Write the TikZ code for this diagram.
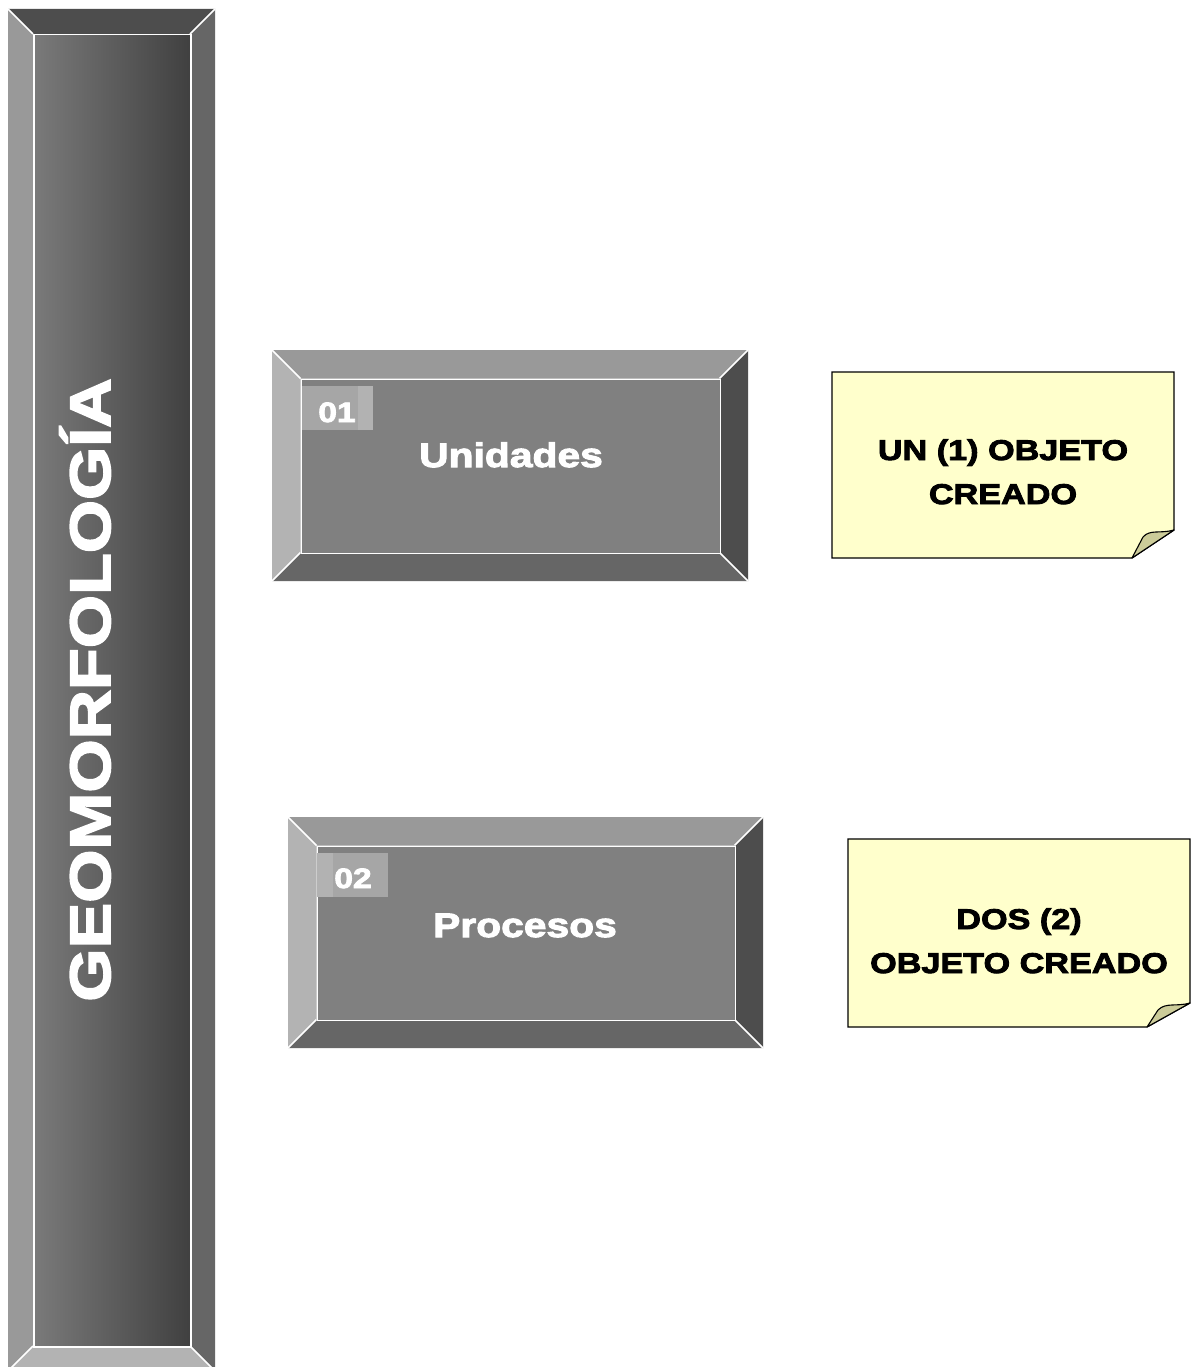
\documentclass[tikz,border=0pt]{standalone}
\usepackage{fontspec}
\newfontfamily\heavy{Liberation Sans}[UprightFont={* Bold},FakeStretch=1.2,FakeBold=3]
\definecolor{gA}{HTML}{4D4D4D}
\definecolor{gB}{HTML}{666666}
\definecolor{gC}{HTML}{808080}
\definecolor{gD}{HTML}{999999}
\definecolor{gE}{HTML}{B3B3B3}
\definecolor{gL}{HTML}{7A7A7A}
\definecolor{gR}{HTML}{404040}
\definecolor{tagA}{HTML}{A6A6A6}
\definecolor{tagB}{HTML}{B2B2B2}
\definecolor{noteY}{HTML}{FFFFCC}
\definecolor{noteF}{HTML}{CCCC99}
\tikzset{
  bevline/.style={white, line width=1.5pt},
  innerbox/.style={inner sep=0pt, anchor=north west, draw=white, line width=1.5pt},
  titletext/.style={text=white, font=\heavy\fontsize{57}{60}\selectfont},
  boxtext/.style={text=white, font=\heavy\fontsize{34}{40}\selectfont, anchor=base},
  tagtext/.style={text=white, font=\heavy\fontsize{28}{32}\selectfont, anchor=base},
  notetext/.style={text=black, font=\heavy\fontsize{28.5}{44}\selectfont, align=center, anchor=base},
  notebody/.style={fill=noteY, draw=black, line width=1.3pt, line join=miter},
  notefold/.style={fill=noteF, draw=black, line width=1.1pt, line join=round}
}
% x1 y1 x2 y2 d top left right bottom
\newcommand{\bevelframe}[9]{%
  \fill[#6] (#1,#2) -- (#3,#2) -- ({#3-#5},{#2+#5}) -- ({#1+#5},{#2+#5}) -- cycle;
  \fill[#7] (#1,#2) -- ({#1+#5},{#2+#5}) -- ({#1+#5},{#4-#5}) -- (#1,#4) -- cycle;
  \fill[#8] (#3,#2) -- (#3,#4) -- ({#3-#5},{#4-#5}) -- ({#3-#5},{#2+#5}) -- cycle;
  \fill[#9] (#1,#4) -- (#3,#4) -- ({#3-#5},{#4-#5}) -- ({#1+#5},{#4-#5}) -- cycle;
  \draw[bevline] (#1,#2) -- ({#1+#5},{#2+#5});
  \draw[bevline] (#3,#2) -- ({#3-#5},{#2+#5});
  \draw[bevline] (#1,#4) -- ({#1+#5},{#4-#5});
  \draw[bevline] (#3,#4) -- ({#3-#5},{#4-#5});
}
\begin{document}
\begin{tikzpicture}[x=1pt,y=-1pt]
\clip (0,0) rectangle (1196,1367);
\fill[white] (0,0) rectangle (1196,1367);

% ---- left column
\bevelframe{8}{9}{215}{1371}{25}{gA}{gD}{gB}{gE}
\node[innerbox, minimum width=157, minimum height=1312, left color=gL, right color=gR] (col) at (33,34) {};
\node[titletext, rotate=90, anchor=base] (title) at (110,690) {GEOMORFOLOGÍA};

% ---- box 1
\bevelframe{272}{350}{748}{581}{28.5}{gD}{gE}{gA}{gB}
\node[innerbox, minimum width=419, minimum height=174, fill=gC] (b1) at (300.5,378.5) {};
\fill[tagA] (302,386) rectangle (358,430);
\fill[tagB] (358,386) rectangle (373,430);
\node[tagtext] (t1) at (337,422) {01};
\node[boxtext] (l1) at (511,467) {Unidades};

% ---- box 2
\bevelframe{288}{817}{763}{1048}{28.5}{gD}{gE}{gA}{gB}
\node[innerbox, minimum width=418, minimum height=174, fill=gC] (b2) at (316.5,845.5) {};
\fill[tagB] (317,853) rectangle (333,897);
\fill[tagA] (333,853) rectangle (388,897);
\node[tagtext] (t2) at (353,888) {02};
\node[boxtext] (l2) at (525,937) {Procesos};

% ---- note 1
\draw[notebody] (832,372) -- (1174,372) -- (1174,530) -- (1132,558) -- (832,558) -- cycle;
\draw[notefold] (1174,530) .. controls (1160,534) and (1150,529) .. (1143,537) -- (1132,558) -- cycle;
\node[notetext] (n1) at (1003,504) {UN (1) OBJETO\\CREADO};

% ---- note 2
\draw[notebody] (848,839) -- (1190,839) -- (1190,1003) -- (1147,1027) -- (848,1027) -- cycle;
\draw[notefold] (1190,1003) .. controls (1176,1007) and (1166,1002) .. (1158,1010) -- (1147,1027) -- cycle;
\node[notetext] (n2) at (1019,973) {DOS (2)\\OBJETO CREADO};
\end{tikzpicture}
\end{document}
